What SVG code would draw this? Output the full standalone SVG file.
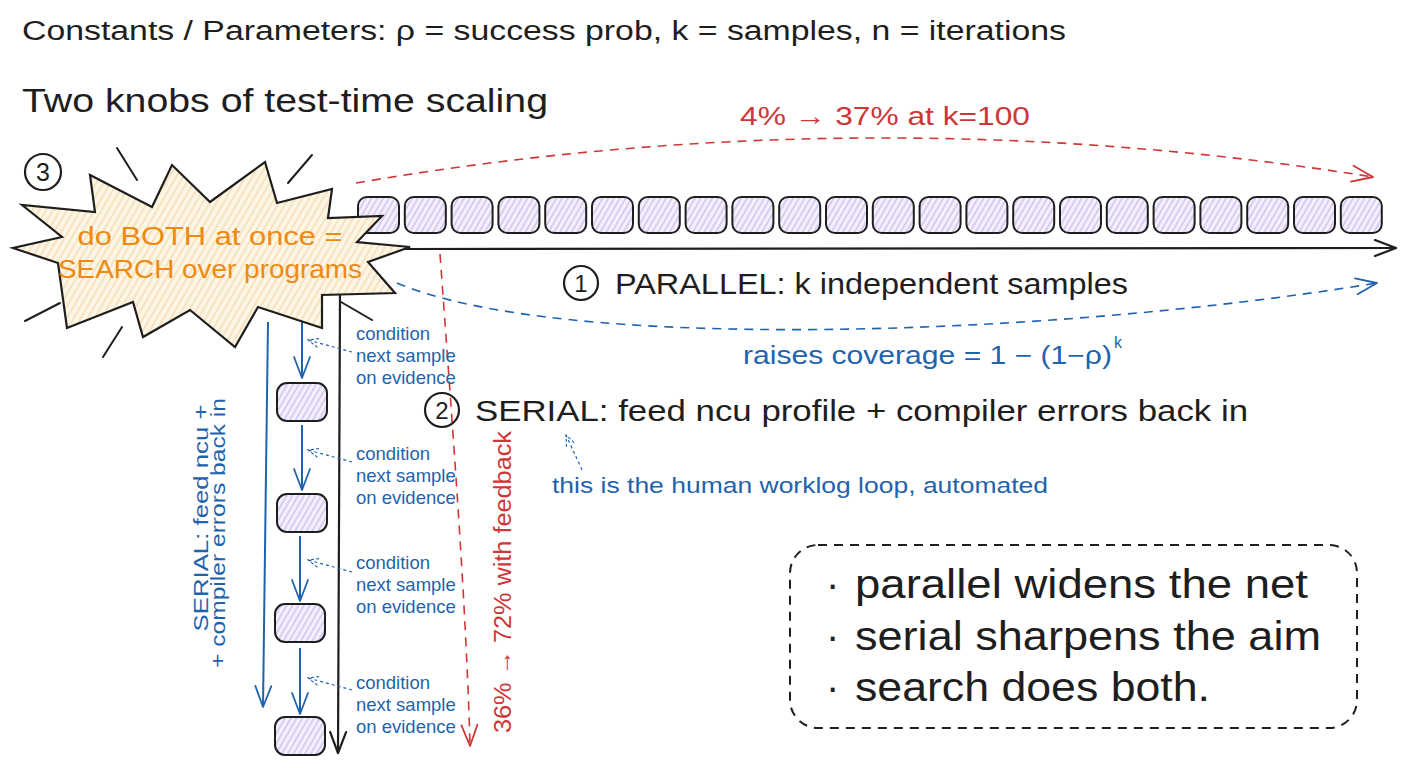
<svg xmlns="http://www.w3.org/2000/svg" width="1408" height="768" viewBox="0 0 1408 768">
<defs>
<style>
text{font-family:"Liberation Sans",Arial,sans-serif;}
.k{fill:#1e1e1e;}
.red{fill:#cf3636;}
.blue{fill:#1f63ad;}
.org{fill:#ee8a12;}
.box{fill:url(#hatchP);stroke:#1e1e1e;stroke-width:2;}
.blk{fill:none;stroke:#1e1e1e;stroke-width:2.2;}
.rdash{fill:none;stroke:#cf3636;stroke-width:1.6;stroke-dasharray:9 7;}
.bdash{fill:none;stroke:#1f63ad;stroke-width:1.6;stroke-dasharray:9 7;}
.bsol{fill:none;stroke:#1f63ad;stroke-width:2;}
.bptr{fill:none;stroke:#1f63ad;stroke-width:1.2;stroke-dasharray:3 3;}
.cond{font-size:18.5px;fill:#1f63ad;}
.burst{fill:none;stroke:#1e1e1e;stroke-width:2;stroke-linecap:round;}
</style>
<pattern id="hatchP" patternUnits="userSpaceOnUse" width="5" height="5" patternTransform="rotate(30)">
<rect width="5" height="5" fill="#f5f1fc"/>
<line x1="1" y1="0" x2="1" y2="5" stroke="#c3aeea" stroke-width="1.1"/>
</pattern>
<pattern id="hatchY" patternUnits="userSpaceOnUse" width="6" height="6" patternTransform="rotate(30)">
<rect width="6" height="6" fill="#fdf6e4"/>
<line x1="1" y1="0" x2="1" y2="6" stroke="#f1d3a2" stroke-width="1.1"/>
</pattern>
<marker id="mK" markerUnits="userSpaceOnUse" markerWidth="26" markerHeight="22" refX="23" refY="11" orient="auto" viewBox="0 0 26 22">
<path d="M2,3 L23,11 L2,19" fill="none" stroke="#1e1e1e" stroke-width="2.2" stroke-linecap="round" stroke-linejoin="round"/>
</marker>
<marker id="mR" markerUnits="userSpaceOnUse" markerWidth="26" markerHeight="22" refX="23" refY="11" orient="auto" viewBox="0 0 26 22">
<path d="M2,3 L23,11 L2,19" fill="none" stroke="#cf3636" stroke-width="1.8" stroke-linecap="round" stroke-linejoin="round"/>
</marker>
<marker id="mB" markerUnits="userSpaceOnUse" markerWidth="26" markerHeight="22" refX="23" refY="11" orient="auto" viewBox="0 0 26 22">
<path d="M2,3 L23,11 L2,19" fill="none" stroke="#1f63ad" stroke-width="1.8" stroke-linecap="round" stroke-linejoin="round"/>
</marker>
<marker id="mBs" markerUnits="userSpaceOnUse" markerWidth="14" markerHeight="12" refX="12" refY="6" orient="auto" viewBox="0 0 14 12">
<path d="M1,1.5 L12,6 L1,10.5" fill="none" stroke="#1f63ad" stroke-width="1.1" stroke-dasharray="3 2"/>
</marker>
</defs>
<rect width="1408" height="768" fill="#ffffff"/>

<g id="title">
<text class="k" x="22" y="40" font-size="27" textLength="1044" lengthAdjust="spacingAndGlyphs">Constants / Parameters: ρ = success prob, k = samples, n = iterations</text>
<text class="k" x="22" y="112" font-size="33" textLength="526" lengthAdjust="spacingAndGlyphs">Two knobs of test-time scaling</text>
</g>

<g id="parallel-row">
<rect id="p1" class="box" x="358" y="197" width="41" height="36" rx="9"/>
<rect id="p2" class="box" x="404.8" y="197" width="41" height="36" rx="9"/>
<rect id="p3" class="box" x="451.6" y="197" width="41" height="36" rx="9"/>
<rect id="p4" class="box" x="498.4" y="197" width="41" height="36" rx="9"/>
<rect id="p5" class="box" x="545.2" y="197" width="41" height="36" rx="9"/>
<rect id="p6" class="box" x="592" y="197" width="41" height="36" rx="9"/>
<rect id="p7" class="box" x="638.8" y="197" width="41" height="36" rx="9"/>
<rect id="p8" class="box" x="685.6" y="197" width="41" height="36" rx="9"/>
<rect id="p9" class="box" x="732.4" y="197" width="41" height="36" rx="9"/>
<rect id="p10" class="box" x="779.2" y="197" width="41" height="36" rx="9"/>
<rect id="p11" class="box" x="826" y="197" width="41" height="36" rx="9"/>
<rect id="p12" class="box" x="872.8" y="197" width="41" height="36" rx="9"/>
<rect id="p13" class="box" x="919.6" y="197" width="41" height="36" rx="9"/>
<rect id="p14" class="box" x="966.4" y="197" width="41" height="36" rx="9"/>
<rect id="p15" class="box" x="1013.2" y="197" width="41" height="36" rx="9"/>
<rect id="p16" class="box" x="1060" y="197" width="41" height="36" rx="9"/>
<rect id="p17" class="box" x="1106.8" y="197" width="41" height="36" rx="9"/>
<rect id="p18" class="box" x="1153.6" y="197" width="41" height="36" rx="9"/>
<rect id="p19" class="box" x="1200.4" y="197" width="41" height="36" rx="9"/>
<rect id="p20" class="box" x="1247.2" y="197" width="41" height="36" rx="9"/>
<rect id="p21" class="box" x="1294" y="197" width="41" height="36" rx="9"/>
<rect id="p22" class="box" x="1340.8" y="197" width="41" height="36" rx="9"/>
</g>

<g id="serial-column">
<rect id="s1" class="box" x="277" y="383" width="50" height="38" rx="10"/>
<rect id="s2" class="box" x="277" y="494" width="50" height="38" rx="10"/>
<rect id="s3" class="box" x="275" y="604" width="50" height="38" rx="10"/>
<rect id="s4" class="box" x="275" y="717" width="50" height="38" rx="10"/>
</g>

<g id="connectors">
<path class="blk" d="M400,249 L1396,248" marker-end="url(#mK)"/>
<path class="rdash" d="M356,183 Q865,96 1373,177" marker-end="url(#mR)"/>
<path class="bdash" d="M397,283 C560,352 1040,338 1377,283" marker-end="url(#mB)"/>
<path class="rdash" d="M440,254 C452,420 466,600 470,746" marker-end="url(#mR)"/>
<path class="blk" d="M340,295 L338,753" marker-end="url(#mK)"/>
<path class="bsol" d="M268,322 C266,450 265,580 263,707" marker-end="url(#mB)"/>
<path class="bsol" d="M302,317 L302,378" marker-end="url(#mB)"/>
<path class="bsol" d="M302,425 L302,490" marker-end="url(#mB)"/>
<path class="bsol" d="M300,536 L300,601" marker-end="url(#mB)"/>
<path class="bsol" d="M300,648 L300,714" marker-end="url(#mB)"/>
<path class="bptr" d="M352,352 L308,340" marker-end="url(#mBs)"/>
<path class="bptr" d="M352,462 L308,450" marker-end="url(#mBs)"/>
<path class="bptr" d="M352,572 L308,560" marker-end="url(#mBs)"/>
<path class="bptr" d="M352,690 L308,678" marker-end="url(#mBs)"/>
<path class="bptr" d="M582,470 L566,435" marker-end="url(#mBs)"/>
</g>

<g id="search-burst">
<polygon points="22,205 62,237 13,248 58,263 67,328 133,302 143,337 190,310 235,347 258,307 322,328 322,295 395,293 368,262 410,247 357,242 382,216 328,218 332,189 277,203 265,162 210,202 172,165 152,207 90,175 95,212" fill="url(#hatchY)" stroke="#1e1e1e" stroke-width="2.2" stroke-linejoin="miter"/>
<line class="burst" x1="117" y1="148" x2="137" y2="180"/>
<line class="burst" x1="312" y1="155" x2="288" y2="183"/>
<line class="burst" x1="25" y1="321" x2="60" y2="303"/>
<line class="burst" x1="103" y1="357" x2="122" y2="327"/>
<line class="burst" x1="341" y1="302" x2="372" y2="320"/>
<text class="org" x="210" y="245" font-size="25" text-anchor="middle" textLength="265" lengthAdjust="spacingAndGlyphs">do BOTH at once =</text>
<text class="org" x="210" y="278" font-size="25" text-anchor="middle" textLength="304" lengthAdjust="spacingAndGlyphs">SEARCH over programs</text>
</g>

<g id="badge-3">
<circle cx="43" cy="172" r="18" fill="none" stroke="#1e1e1e" stroke-width="2.2"/>
<text class="k" x="43" y="181" font-size="25" text-anchor="middle">3</text>
</g>

<g id="label-parallel">
<circle cx="581" cy="283" r="17" fill="none" stroke="#1e1e1e" stroke-width="2.2"/>
<text class="k" x="581" y="292" font-size="24" text-anchor="middle">1</text>
<text class="k" x="615" y="294" font-size="30" textLength="513" lengthAdjust="spacingAndGlyphs">PARALLEL: k independent samples</text>
</g>

<g id="label-gain-parallel">
<text class="red" x="740" y="125" font-size="26" textLength="290" lengthAdjust="spacingAndGlyphs">4% → 37% at k=100</text>
</g>

<g id="label-coverage">
<text class="blue" x="743" y="364" font-size="25" textLength="369" lengthAdjust="spacingAndGlyphs">raises coverage = 1 − (1−ρ)</text>
<text class="blue" x="1114" y="348" font-size="16">k</text>
</g>

<g id="label-serial">
<circle cx="442" cy="410" r="17" fill="none" stroke="#1e1e1e" stroke-width="2.2"/>
<text class="k" x="442" y="419" font-size="24" text-anchor="middle">2</text>
<text class="k" x="475" y="421" font-size="30" textLength="773" lengthAdjust="spacingAndGlyphs">SERIAL: feed ncu profile + compiler errors back in</text>
</g>

<g id="label-human">
<text class="blue" x="552" y="493" font-size="22" textLength="496" lengthAdjust="spacingAndGlyphs">this is the human worklog loop, automated</text>
</g>

<g id="label-conditions">
<text class="cond" x="356" y="340">condition</text>
<text class="cond" x="356" y="362">next sample</text>
<text class="cond" x="356" y="384">on evidence</text>
<text class="cond" x="356" y="460">condition</text>
<text class="cond" x="356" y="482">next sample</text>
<text class="cond" x="356" y="504">on evidence</text>
<text class="cond" x="356" y="569">condition</text>
<text class="cond" x="356" y="591">next sample</text>
<text class="cond" x="356" y="613">on evidence</text>
<text class="cond" x="356" y="689">condition</text>
<text class="cond" x="356" y="711">next sample</text>
<text class="cond" x="356" y="733">on evidence</text>
</g>

<g id="label-serial-vertical">
<text class="blue" font-size="21" text-anchor="middle" transform="translate(208,518) rotate(-90)" textLength="227" lengthAdjust="spacingAndGlyphs">SERIAL: feed ncu +</text>
<text class="blue" font-size="21" text-anchor="middle" transform="translate(225,533) rotate(-90)" textLength="270" lengthAdjust="spacingAndGlyphs">+ compiler errors back in</text>
</g>

<g id="label-gain-serial">
<text class="red" font-size="23" text-anchor="middle" transform="translate(511,582) rotate(-90)" textLength="302" lengthAdjust="spacingAndGlyphs">36% → 72% with feedback</text>
</g>

<g id="legend">
<rect x="790" y="545" width="567" height="183" rx="28" fill="none" stroke="#1e1e1e" stroke-width="2" stroke-dasharray="9 7"/>
<text class="k" x="826" y="598" font-size="40">·</text>
<text class="k" x="855" y="598" font-size="40" textLength="453" lengthAdjust="spacingAndGlyphs">parallel widens the net</text>
<text class="k" x="826" y="650" font-size="40">·</text>
<text class="k" x="855" y="650" font-size="40" textLength="466" lengthAdjust="spacingAndGlyphs">serial sharpens the aim</text>
<text class="k" x="826" y="701" font-size="40">·</text>
<text class="k" x="855" y="701" font-size="40" textLength="355" lengthAdjust="spacingAndGlyphs">search does both.</text>
</g>
</svg>
